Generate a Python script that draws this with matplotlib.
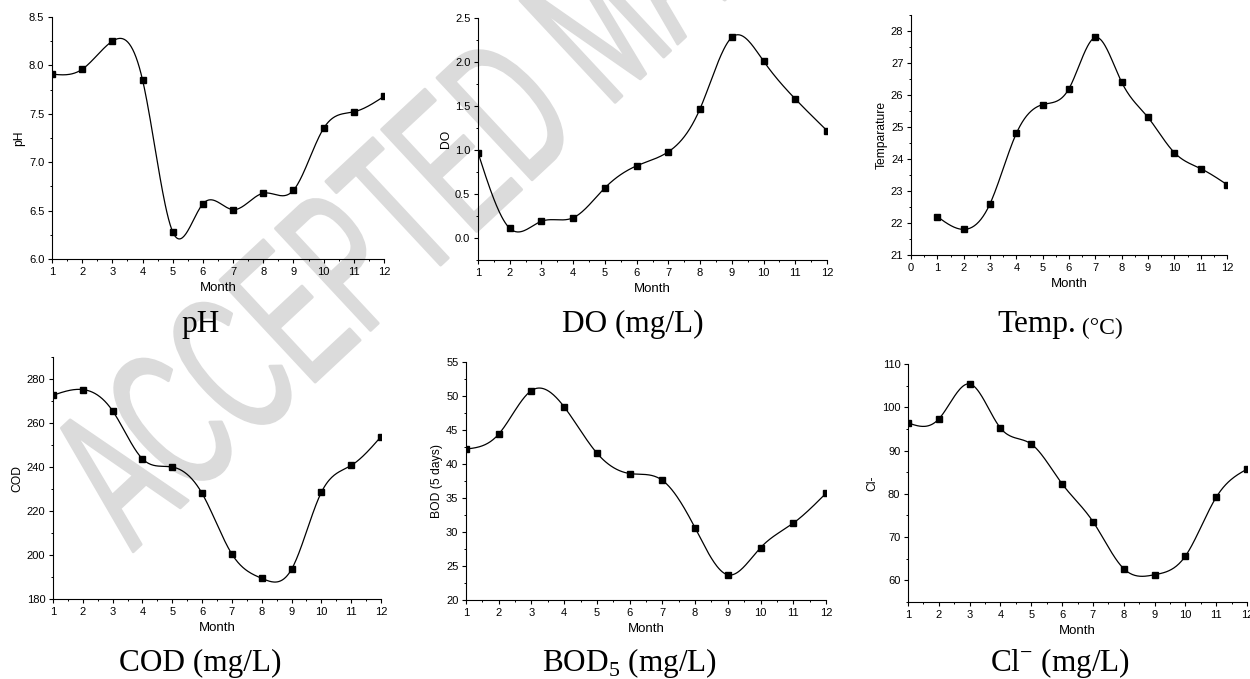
import numpy as np
import matplotlib
matplotlib.use("Agg")
import matplotlib.pyplot as plt
from matplotlib import patheffects
from matplotlib.transforms import Affine2D
from matplotlib.ticker import MultipleLocator, FormatStrFormatter

# monthly water quality data
months = list(range(1, 13))
ph = [7.91, 7.96, 8.25, 7.85, 6.28, 6.57, 6.51, 6.68, 6.71, 7.35, 7.52, 7.68]
do = [0.97, 0.11, 0.19, 0.23, 0.57, 0.82, 0.98, 1.47, 2.28, 2.01, 1.58, 1.22]
temp = [22.2, 21.8, 22.6, 24.8, 25.7, 26.2, 27.8, 26.4, 25.3, 24.2, 23.7, 23.2]
cod = [272.6, 275.2, 265.5, 243.7, 240.0, 228.0, 200.4, 189.4, 193.5, 228.5, 240.7, 253.8]
bod = [42.2, 44.4, 50.8, 48.4, 41.6, 38.6, 37.6, 30.6, 23.7, 27.7, 31.3, 35.7]
cl = [96.4, 97.3, 105.4, 95.2, 91.5, 82.3, 73.6, 62.7, 61.3, 65.6, 79.2, 85.7]

ylabels = ["pH", "DO", "Temparature", "COD", "BOD (5 days)", "Cl-"]
titles = ["pH", "DO (mg/L)", "Temp.", "COD (mg/L)", r"BOD$_{\mathrm{5}}$ (mg/L)", r"Cl$^{\mathrm{-}}$ (mg/L)"]

plt.rcParams['font.family'] = ['Liberation Sans', 'DejaVu Sans']
plt.rcParams['mathtext.fontset'] = 'custom'
plt.rcParams['mathtext.rm'] = 'Liberation Serif'

W, H = 1250, 679
fig = plt.figure(figsize=(W / 100, H / 100), dpi=100)


def spline(x, y, n=400):
    # natural cubic spline through the points (Origin style "Spline" connect)
    x = np.asarray(x, float)
    y = np.asarray(y, float)
    m = len(x)
    h = np.diff(x)
    A = np.zeros((m, m))
    r = np.zeros(m)
    A[0, 0] = A[-1, -1] = 1
    for i in range(1, m - 1):
        A[i, i - 1] = h[i - 1]
        A[i, i] = 2 * (h[i - 1] + h[i])
        A[i, i + 1] = h[i]
        r[i] = 3 * ((y[i + 1] - y[i]) / h[i] - (y[i] - y[i - 1]) / h[i - 1])
    c = np.linalg.solve(A, r)
    b = (y[1:] - y[:-1]) / h - h * (2 * c[:-1] + c[1:]) / 3
    d = (c[1:] - c[:-1]) / (3 * h)
    xs = np.linspace(x[0], x[-1], n)
    idx = np.clip(np.searchsorted(x, xs) - 1, 0, m - 2)
    dx = xs - x[idx]
    return xs, y[idx] + b[idx] * dx + c[idx] * dx ** 2 + d[idx] * dx ** 3


def px_axes(x0, x1, y0, y1):
    return fig.add_axes([x0 / W, 1 - y1 / H, (x1 - x0) / W, (y1 - y0) / H])


class Condensed(patheffects.Stroke):
    # squeeze the glyphs along the baseline, plus a round-capped outline
    def __init__(self, sx, **kw):
        super().__init__(**kw)
        self.sx = sx

    def draw_path(self, renderer, gc, tpath, affine, rgbFace=None):
        super().draw_path(renderer, gc, tpath, Affine2D().scale(self.sx, 1) + affine, rgbFace)


# grey diagonal watermark, drawn under the panels
wm_color = '#dbdbdb'
fig.text(133 / W, 1 - 552 / H, "ACCEPTED MANUSCRIPT", rotation=43,
         rotation_mode='anchor', ha='left', va='baseline', fontsize=146,
         family='Liberation Sans', color=wm_color, zorder=-5,
         path_effects=[Condensed(0.56, linewidth=2.0, foreground=wm_color,
                                 joinstyle='round', capstyle='round')])

# pixel boxes of the six panels
boxes = [(52, 384, 17, 259), (478, 827, 18, 260), (911, 1227, 15, 255),
         (53, 381, 357, 599), (466, 826, 362, 600), (908, 1247, 364, 602)]
series = [ph, do, temp, cod, bod, cl]
ylims = [(6.0, 8.5), (-0.25, 2.5), (21, 28.5), (180, 290), (20, 55), (55, 110)]
ysteps = [0.5, 0.5, 1, 20, 5, 10]
title_pos = [(201, 332), (633, 332), (997, 332), (200, 671), (630, 671), (1060, 671)]

for i in range(6):
    ax = px_axes(*boxes[i])
    ax.patch.set_alpha(0)
    xs, ys = spline(months, series[i])
    ax.plot(xs, ys, color='black', lw=0.9)
    ax.plot(months, series[i], 's', color='black', ms=4.3)
    ax.set_ylim(*ylims[i])
    if i == 2:
        ax.set_xlim(0, 12)
    else:
        ax.set_xlim(1, 12)
    ax.xaxis.set_major_locator(MultipleLocator(1))
    ax.xaxis.set_minor_locator(MultipleLocator(0.5))
    ax.yaxis.set_major_locator(MultipleLocator(ysteps[i]))
    ax.yaxis.set_minor_locator(MultipleLocator(ysteps[i] / 2))
    if i == 1:
        ax.yaxis.set_major_formatter(FormatStrFormatter('%.1f'))
    ax.spines['top'].set_visible(False)
    ax.spines['right'].set_visible(False)
    for s in ['left', 'bottom']:
        ax.spines[s].set_linewidth(0.8)
    ax.tick_params(which='major', direction='out', length=3, width=0.8, labelsize=8, pad=2.5)
    ax.tick_params(which='minor', direction='out', length=1.6, width=0.7)
    ax.set_xlabel("Month", fontsize=9.5, labelpad=4)
    ax.set_ylabel(ylabels[i], fontsize=8.7, labelpad=2.5)

    tx, ty = title_pos[i]
    if i == 2:
        # "(°C)" is set smaller, right after "Temp."
        t = fig.text(tx / W, 1 - ty / H, titles[i], ha='left', va='baseline',
                     fontsize=22.5, family='Liberation Serif')
        ax.annotate(" (°C)", xy=(1, 0), xycoords=t, va='bottom', ha='left',
                    fontsize=17, family='Liberation Serif', annotation_clip=False)
    else:
        fig.text(tx / W, 1 - ty / H, titles[i], ha='center', va='baseline',
                 fontsize=22.5, family='Liberation Serif')

fig.savefig("out.png", dpi=100)
